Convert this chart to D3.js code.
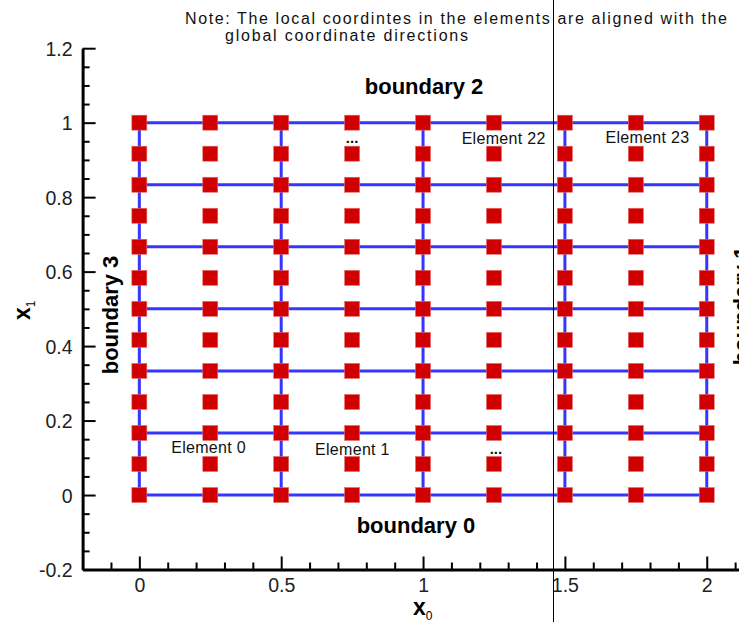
<!DOCTYPE html>
<html>
<head>
<meta charset="utf-8">
<script src="https://cdn.jsdelivr.net/npm/d3@7"></script>
<style>
  html, body { margin: 0; padding: 0; background: #fff; }
  svg { display: block; font-family: "Liberation Sans", Arial, sans-serif; }
</style>
</head>
<body>
<svg id="chart" width="739" height="622"></svg>
<script>
// ---- data ----
const gridLinesX = [0, 0.5, 1, 1.5, 2];
const gridLinesY = [0, 0.1667, 0.3333, 0.5, 0.6667, 0.8333, 1];
const nodeX = [0, 0.25, 0.5, 0.75, 1, 1.25, 1.5, 1.75, 2];
const nodeY = [0, 0.0833, 0.1667, 0.25, 0.3333, 0.4167, 0.5, 0.5833, 0.6667, 0.75, 0.8333, 0.9167, 1];
const xMajorTicks = [0, 0.5, 1, 1.5, 2];
const xMinorTicks = [-0.1, 0.1, 0.2, 0.3, 0.4, 0.6, 0.7, 0.8, 0.9, 1.1, 1.2, 1.3, 1.4, 1.6, 1.7, 1.8, 1.9, 2.1];
const xTickLabels = ["0", "0.5", "1", "1.5", "2"];
const yMajorTicks = [-0.2, 0, 0.2, 0.4, 0.6, 0.8, 1, 1.2];
const yMinorTicks = [-0.15, -0.1, -0.05, 0.05, 0.1, 0.15, 0.25, 0.3, 0.35, 0.45, 0.5, 0.55, 0.65, 0.7, 0.75, 0.85, 0.9, 0.95, 1.05, 1.1, 1.15];
const yTickLabels = ["-0.2", "0", "0.2", "0.4", "0.6", "0.8", "1", "1.2"];
const elementLabels = ["Element 0", "Element 1", "...", "Element 22", "Element 23", "..."];
const elementLabelX = [0.244, 0.751, 1.257, 1.284, 1.791, 0.75];
const elementLabelY = [0.113, 0.107, 0.110, 0.943, 0.945, 0.945];
const boundaryLabels = ["boundary 0", "boundary 1", "boundary 2", "boundary 3"];
const boundaryLabelX = [0.975, 2.149, 1.0035, -0.075];
const boundaryLabelY = [-0.102, 0.508, 1.077, 0.4835];
const boundaryRotated = [false, true, false, true];
const noteLines = ["Note: The local coordintes in the elements are aligned with the", "global coordinate directions"];
const markerLineX = 1.458;

// ---- layout ----
const svg = d3.select("#chart");
const x = d3.scaleLinear().domain([-0.2, 2.2]).range([82.6, 763.5]);
const y = d3.scaleLinear().domain([-0.2, 1.2]).range([569.5, 48.2]);

const blue = "#3535ff";
const red = "#d00000";

// grid lines (element edges)
svg.append("g").selectAll("line.v").data(gridLinesX).join("line")
  .attr("x1", d => x(d)).attr("x2", d => x(d))
  .attr("y1", y(0)).attr("y2", y(1))
  .attr("stroke", blue).attr("stroke-width", 3);
svg.append("g").selectAll("line.h").data(gridLinesY).join("line")
  .attr("x1", x(0)).attr("x2", x(2))
  .attr("y1", d => y(d)).attr("y2", d => y(d))
  .attr("stroke", blue).attr("stroke-width", 3);

// nodes
const nodes = [];
nodeX.forEach(a => nodeY.forEach(b => nodes.push([a, b])));
const sq = 15;
svg.append("g").selectAll("rect").data(nodes).join("rect")
  .attr("x", d => x(d[0]) - sq / 2)
  .attr("y", d => y(d[1]) - sq / 2)
  .attr("width", sq).attr("height", sq)
  .attr("fill", red)
  .attr("stroke", "#e46a6a").attr("stroke-width", 0.6);

// axes
const tickFont = 19.5;
function styleAxis(g) {
  g.selectAll(".tick line").attr("stroke", "#000").attr("stroke-width", 2);
  g.selectAll(".tick text").attr("font-size", tickFont).attr("fill", "#222")
    .attr("font-family", "'Liberation Sans', Arial, sans-serif");
}
const gxMinor = svg.append("g").attr("transform", `translate(0,${y(-0.2)})`)
  .call(d3.axisBottom(x).tickValues(xMinorTicks).tickSize(-7).tickFormat(""));
gxMinor.select(".domain").remove();
styleAxis(gxMinor);
const gx = svg.append("g").attr("transform", `translate(0,${y(-0.2)})`)
  .call(d3.axisBottom(x).tickValues(xMajorTicks).tickSizeInner(-13).tickSizeOuter(0).tickPadding(8.5)
    .tickFormat((d, i) => xTickLabels[i]));
gx.select(".domain").attr("stroke", "#000").attr("stroke-width", 3);
styleAxis(gx);

const gyMinor = svg.append("g").attr("transform", `translate(${x(-0.2)},0)`)
  .call(d3.axisLeft(y).tickValues(yMinorTicks).tickSize(-7).tickFormat(""));
gyMinor.select(".domain").remove();
styleAxis(gyMinor);
const gy = svg.append("g").attr("transform", `translate(${x(-0.2)},0)`)
  .call(d3.axisLeft(y).tickValues(yMajorTicks).tickSizeInner(-13).tickSizeOuter(0).tickPadding(10)
    .tickFormat((d, i) => yTickLabels[i]));
gy.select(".domain").attr("stroke", "#000").attr("stroke-width", 3);
styleAxis(gy);
gy.selectAll(".tick text").attr("dy", "0.36em");

// axis titles
const xt = svg.append("text")
  .attr("x", 413).attr("y", 615)
  .attr("font-size", 23).attr("font-weight", "bold").attr("fill", "#000");
xt.append("tspan").text("x");
xt.append("tspan").attr("font-size", 12).attr("font-weight", "normal").attr("dy", 5).text("0");

const yt = svg.append("text")
  .attr("transform", "translate(30,320) rotate(-90)")
  .attr("font-size", 23).attr("font-weight", "bold").attr("fill", "#000");
yt.append("tspan").text("x");
yt.append("tspan").attr("font-size", 12).attr("font-weight", "normal").attr("dy", 5).text("1");

// element labels
svg.append("g").selectAll("text").data(elementLabels).join("text")
  .attr("x", (d, i) => x(elementLabelX[i]))
  .attr("y", (d, i) => y(elementLabelY[i]))
  .attr("text-anchor", "middle")
  .attr("font-size", d => d === "..." ? 15 : 16)
  .attr("font-weight", d => d === "..." ? "bold" : "normal")
  .attr("letter-spacing", d => d === "..." ? 0 : 0.3)
  .attr("fill", "#111")
  .text(d => d);

// boundary labels
svg.append("g").selectAll("text").data(boundaryLabels).join("text")
  .attr("transform", (d, i) => `translate(${x(boundaryLabelX[i])},${y(boundaryLabelY[i])})` + (boundaryRotated[i] ? " rotate(-90)" : ""))
  .attr("text-anchor", "middle")
  .attr("font-size", 22).attr("font-weight", "bold").attr("fill", "#000")
  .text(d => d);

// note
svg.append("text").attr("x", 185).attr("y", 24)
  .attr("font-size", 16).attr("fill", "#111")
  .attr("textLength", 542).attr("lengthAdjust", "spacing")
  .text(noteLines[0]);
svg.append("text").attr("x", 225).attr("y", 41)
  .attr("font-size", 16).attr("fill", "#111")
  .attr("textLength", 243).attr("lengthAdjust", "spacing")
  .text(noteLines[1]);

// vertical marker line
svg.append("line")
  .attr("x1", Math.round(x(markerLineX)) + 0.5).attr("x2", Math.round(x(markerLineX)) + 0.5)
  .attr("y1", 0).attr("y2", 622)
  .attr("stroke", "#000").attr("stroke-width", 1);
</script>
</body>
</html>
